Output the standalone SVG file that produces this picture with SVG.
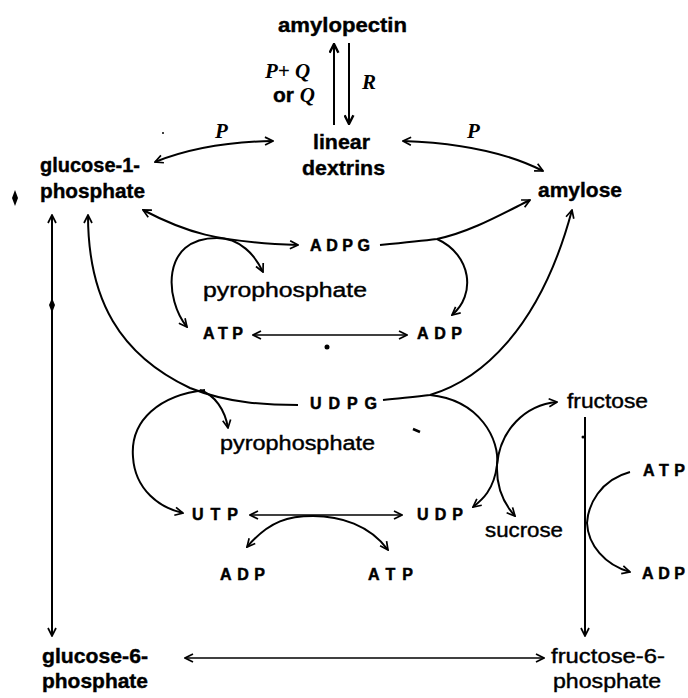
<svg xmlns="http://www.w3.org/2000/svg" width="688" height="698" viewBox="0 0 688 698">
<defs>
<marker id="ah" viewBox="0 0 10 10" refX="9" refY="5" markerWidth="10" markerHeight="10" markerUnits="userSpaceOnUse" orient="auto-start-reverse">
<path d="M1,1 L9,5 L1,9" fill="none" stroke="#000" stroke-width="1.7"/>
</marker>
<marker id="ahb" viewBox="0 0 10 10" refX="9" refY="5" markerWidth="11" markerHeight="11" markerUnits="userSpaceOnUse" orient="auto-start-reverse">
<path d="M1,1 L9,5 L1,9" fill="none" stroke="#000" stroke-width="2.2"/>
</marker>
<style>
text{font-family:"Liberation Sans",Arial,sans-serif;fill:#000}
.b{font-weight:bold;font-size:21px;stroke:#000;stroke-width:0.4}
.n{font-weight:normal;font-size:20px;stroke:#000;stroke-width:0.4}
.c{font-weight:bold;font-size:16px;stroke:#000;stroke-width:0.5}
.i{font-family:"Liberation Serif","Times New Roman",serif;font-style:italic;font-weight:bold;font-size:21px}
.l{fill:none;stroke:#000;stroke-width:2}
.t{fill:none;stroke:#000;stroke-width:1.4}
.a{marker-end:url(#ah)}
.d{marker-start:url(#ah);marker-end:url(#ah)}
</style>
</defs>
<g id="connectors">
<line x1="334" y1="125" x2="334" y2="44" class="l" stroke-width="2.4" marker-end="url(#ahb)"/>
<line x1="349" y1="43" x2="349" y2="124" class="l" stroke-width="2.4" marker-end="url(#ahb)"/>
<path d="M155,162 Q205,142 273,141" class="l d"/>
<path d="M403,141 Q490,144 543,171" class="l d"/>
<path d="M143,210 C185,232 215,242 298,245" class="l d"/>
<path d="M187,327 C165,300 160,238 217,238 C240,238 255,255 263,272" class="l d"/>
<line x1="253" y1="335" x2="407" y2="335" class="t d"/>
<path d="M380,245 C400,243 420,241 437,239 C470,232 500,215 530,200" class="l a"/>
<path d="M437,239 C472,255 476,295 452,315" class="l a"/>
<path d="M88,215 C88,300 120,355 190,388 C230,404 270,405 298,405" class="l" marker-start="url(#ah)"/>
<path d="M383,400 C400,398 415,397 430,395 C480,380 540,330 572,210" class="l a"/>
<path d="M205,390 C160,395 130,420 133,457 C135,490 160,508 183,513" class="l a"/>
<path d="M200,390 C215,395 225,410 228,428" class="l a"/>
<line x1="250" y1="515" x2="402" y2="515" class="t d"/>
<path d="M247,547 C270,520 290,516 313,516 C340,516 370,525 388,550" class="l d"/>
<path d="M430,395 C480,400 500,440 497,465 C494,490 482,500 473,507" class="l a"/>
<path d="M557,402 C525,405 500,430 497,465 C496,490 505,505 515,516" class="l d"/>
<line x1="585" y1="417" x2="585" y2="636" class="l a"/>
<path d="M630,472 C600,480 588,505 587,523 C588,545 605,565 630,572" class="l a"/>
<line x1="52" y1="215" x2="52" y2="636" class="l d"/>
<line x1="185" y1="658" x2="544" y2="658" class="t d"/>
</g>
<g id="specks">
<path d="M15,190 L18,198 L15,206 L12,198 Z" fill="#000"/>
<path d="M52,298 L55,305 L52,313 L49,305 Z" fill="#000"/>
<circle cx="163" cy="133" r="1" fill="#000"/>
<circle cx="327" cy="347" r="2.5" fill="#000"/>
<path d="M413,429 L420,432" stroke="#000" stroke-width="2.5"/>
<circle cx="583" cy="437" r="1.5" fill="#000"/>
</g>
<g id="amylopectin"><text class="b" x="278" y="32" textLength="129" lengthAdjust="spacingAndGlyphs">amylopectin</text></g>
<g id="label-PQ"><text class="i" x="265" y="78">P+ Q</text><text x="273" y="102"><tspan class="b">or </tspan><tspan class="i">Q</tspan></text></g>
<g id="label-R"><text class="i" x="362" y="89">R</text></g>
<g id="linear-dextrins"><text class="b" x="313" y="149" font-size="22" textLength="57" lengthAdjust="spacingAndGlyphs">linear</text><text class="b" x="302" y="175" font-size="22" textLength="83" lengthAdjust="spacingAndGlyphs">dextrins</text></g>
<g id="label-P1"><text class="i" x="215" y="138">P</text></g>
<g id="label-P2"><text class="i" x="467" y="138">P</text></g>
<g id="glucose-1-phosphate"><text class="b" x="40" y="172" textLength="100" lengthAdjust="spacingAndGlyphs">glucose-1-</text><text class="b" x="40" y="198" textLength="105" lengthAdjust="spacingAndGlyphs">phosphate</text></g>
<g id="amylose"><text class="b" x="538" y="197" textLength="84" lengthAdjust="spacingAndGlyphs">amylose</text></g>
<g id="ADPG"><text class="c" x="310" y="251" textLength="60">ADPG</text></g>
<g id="pyrophosphate1"><text class="n" x="203" y="297" textLength="164" lengthAdjust="spacingAndGlyphs">pyrophosphate</text></g>
<g id="ATP1"><text class="c" x="203" y="339" textLength="40">ATP</text></g>
<g id="ADP1"><text class="c" x="417" y="339" textLength="45">ADP</text></g>
<g id="UDPG"><text class="c" x="310" y="409" textLength="67">UDPG</text></g>
<g id="pyrophosphate2"><text class="n" x="220" y="450" textLength="155" lengthAdjust="spacingAndGlyphs">pyrophosphate</text></g>
<g id="UTP"><text class="c" x="192" y="520" textLength="46">UTP</text></g>
<g id="UDP"><text class="c" x="417" y="520" textLength="46">UDP</text></g>
<g id="ADP2"><text class="c" x="220" y="580" textLength="45">ADP</text></g>
<g id="ATP2"><text class="c" x="368" y="580" textLength="45">ATP</text></g>
<g id="fructose"><text class="n" x="567" y="408" textLength="81" lengthAdjust="spacingAndGlyphs">fructose</text></g>
<g id="sucrose"><text class="n" x="485" y="537" textLength="78" lengthAdjust="spacingAndGlyphs">sucrose</text></g>
<g id="ATP3"><text class="c" x="643" y="476" textLength="42">ATP</text></g>
<g id="ADP3"><text class="c" x="642" y="579" textLength="43">ADP</text></g>
<g id="glucose-6-phosphate"><text class="b" x="42" y="663" textLength="106" lengthAdjust="spacingAndGlyphs">glucose-6-</text><text class="b" x="42" y="688" textLength="106" lengthAdjust="spacingAndGlyphs">phosphate</text></g>
<g id="fructose-6-phosphate"><text class="n" x="551" y="663" textLength="114" lengthAdjust="spacingAndGlyphs">fructose-6-</text><text class="n" x="553" y="688" textLength="108" lengthAdjust="spacingAndGlyphs">phosphate</text></g>
</svg>
